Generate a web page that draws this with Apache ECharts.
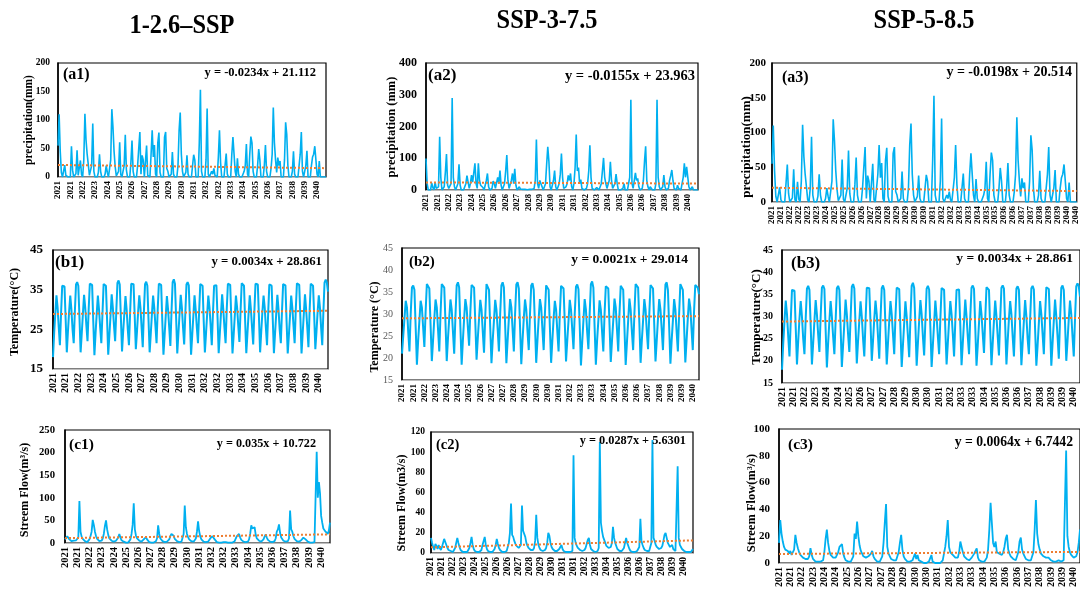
<!DOCTYPE html>
<html>
<head>
<meta charset="utf-8">
<script src="https://cdn.jsdelivr.net/npm/echarts@6/dist/echarts.min.js"></script>
<style>
  html, body { margin: 0; padding: 0; background: #fff; }
  #chart { width: 1080px; height: 590px; }
</style>
</head>
<body>
<div id="chart"></div>
<script>
// monthly categories 2021-01 ... 2040-12
var years = [2021, 2022, 2023, 2024, 2025, 2026, 2027, 2028, 2029, 2030,
             2031, 2032, 2033, 2034, 2035, 2036, 2037, 2038, 2039, 2040];
var months = [];
years.forEach(function (y) {
  for (var m = 1; m <= 12; m++) months.push(y + '-' + (m < 10 ? '0' + m : m));
});

// precipitation (mm), SSP1-2.6 (a1) - a3 draws the same curve
var precip126 = [
  55, 110, 45, 8, 0, 2, 21, 3, 0, 0, 0, 0,
  54, 12, 0, 0, 6, 47, 3, 0, 29, 4, 0, 30,
  111, 65, 40, 22, 3, 0, 20, 94, 10, 0, 0, 0,
  8, 40, 10, 0, 0, 0, 5, 20, 8, 0, 0, 30,
  119, 88, 45, 18, 2, 0, 10, 61, 4, 0, 0, 20,
  74, 12, 0, 0, 0, 25, 64, 10, 0, 0, 0, 20,
  50, 79, 5, 38, 30, 0, 0, 55, 3, 0, 0, 40,
  82, 35, 56, 5, 0, 60, 78, 8, 0, 0, 0, 70,
  79, 15, 10, 0, 0, 5, 44, 5, 0, 0, 0, 20,
  82, 113, 40, 10, 0, 0, 8, 38, 5, 0, 0, 0,
  20, 39, 30, 0, 0, 0, 60, 153, 10, 0, 0, 0,
  30, 120, 5, 0, 0, 10, 5, 15, 3, 0, 0, 35,
  82, 25, 0, 0, 0, 0, 41, 5, 0, 0, 0, 40,
  70, 71, 10, 0, 33, 5, 0, 0, 0, 0, 10, 20,
  58, 5, 0, 40, 71, 60, 10, 0, 0, 0, 20, 49,
  30, 0, 0, 0, 20, 56, 10, 0, 0, 0, 15, 40,
  122, 60, 30, 8, 34, 20, 28, 0, 0, 0, 30, 96,
  75, 20, 0, 0, 0, 10, 45, 5, 0, 0, 0, 20,
  40, 79, 10, 0, 0, 20, 46, 0, 0, 0, 20, 35,
  40, 54, 30, 5, 0, 28, 0, 0, 0, 0, 0, 0
];

// precipitation (mm), SSP3-7.5 (a2)
var precip375 = [
  99, 20, 0, 0, 0, 22, 8, 0, 25, 5, 0, 10,
  168, 40, 0, 0, 10, 55, 113, 15, 5, 0, 20, 290,
  40, 10, 0, 0, 20, 81, 15, 0, 0, 0, 5, 20,
  45, 25, 5, 20, 47, 25, 30, 84, 20, 5, 84, 30,
  15, 20, 8, 0, 5, 30, 52, 10, 0, 0, 5, 28,
  20, 5, 0, 40, 20, 61, 15, 0, 0, 20, 60, 110,
  30, 5, 0, 30, 52, 20, 67, 15, 0, 5, 10, 3,
  2, 2, 1, 2, 2, 1, 2, 2, 1, 2, 2, 5,
  30, 159, 20, 5, 30, 20, 10, 0, 0, 20, 80, 136,
  90, 10, 0, 5, 30, 61, 10, 0, 0, 20, 50, 115,
  40, 5, 0, 10, 20, 46, 30, 52, 10, 0, 20, 70,
  175, 60, 71, 20, 33, 5, 0, 0, 0, 5, 20, 60,
  141, 40, 5, 0, 0, 0, 8, 3, 0, 0, 20, 60,
  101, 40, 20, 5, 0, 30, 89, 30, 5, 0, 20, 50,
  20, 0, 0, 0, 0, 5, 20, 0, 0, 0, 5, 40,
  284, 20, 5, 0, 54, 30, 37, 10, 0, 0, 5, 30,
  90, 138, 30, 10, 0, 10, 5, 0, 0, 0, 20, 284,
  40, 10, 0, 0, 10, 47, 10, 0, 0, 5, 30, 45,
  63, 30, 5, 0, 0, 15, 5, 0, 0, 0, 40, 84,
  40, 73, 75, 10, 0, 0, 10, 0, 0, 0, 0, 0
];

// temperature (°C), SSP1-2.6 (b1) - b3 draws the same curve
var temp126 = [
  18.0, 24.0, 29.0, 33.6, 30.5, 25.5, 21.0, 29.0, 36.0, 36.4, 35.8, 27.5,
  19.2, 24.5, 29.5, 33.5, 30.0, 25.0, 21.5, 29.5, 36.3, 36.9, 36.0, 28.0,
  19.2, 24.0, 29.0, 33.7, 30.5, 26.0, 22.0, 30.0, 36.5, 37.0, 36.2, 27.0,
  18.5, 24.0, 29.0, 33.5, 30.0, 25.5, 21.5, 29.0, 36.4, 36.9, 36.0, 27.5,
  18.6, 23.5, 28.5, 33.8, 30.5, 26.0, 22.0, 29.5, 36.7, 37.3, 36.3, 28.0,
  19.4, 24.5, 29.0, 33.4, 30.0, 25.0, 21.0, 29.0, 36.5, 36.8, 36.4, 28.5,
  20.0, 24.5, 29.5, 33.6, 30.5, 25.5, 20.5, 29.5, 36.4, 37.0, 36.0, 27.5,
  19.2, 24.0, 29.0, 33.5, 30.5, 26.0, 21.5, 30.0, 36.5, 36.9, 36.2, 27.0,
  18.6, 23.5, 28.5, 33.4, 30.0, 25.5, 20.8, 29.5, 36.9, 37.6, 36.5, 28.0,
  18.9, 24.0, 29.0, 33.7, 30.5, 25.5, 21.2, 29.0, 36.3, 36.9, 36.1, 27.5,
  18.6, 23.5, 28.5, 33.6, 30.0, 25.5, 21.5, 29.5, 36.4, 36.8, 36.0, 27.0,
  19.2, 24.0, 29.0, 33.5, 30.5, 26.0, 21.0, 29.0, 36.0, 36.4, 36.1, 28.0,
  19.0, 24.0, 29.0, 33.8, 30.0, 25.5, 21.5, 30.0, 36.5, 37.0, 36.2, 27.5,
  18.9, 23.5, 28.5, 33.5, 30.5, 26.0, 21.8, 29.5, 36.6, 37.0, 36.0, 27.0,
  19.0, 24.0, 29.0, 33.6, 30.0, 25.5, 21.2, 29.5, 36.5, 37.0, 36.3, 28.0,
  19.2, 24.5, 29.5, 33.5, 30.5, 25.5, 21.0, 29.0, 36.3, 36.8, 36.0, 27.5,
  19.0, 24.0, 29.0, 33.7, 30.0, 25.0, 21.5, 29.5, 36.4, 36.9, 36.1, 27.0,
  18.9, 23.5, 28.5, 33.5, 30.5, 26.0, 21.5, 30.0, 36.6, 37.0, 36.2, 28.0,
  18.9, 24.0, 29.0, 33.8, 30.0, 25.5, 20.5, 29.5, 36.5, 37.0, 36.0, 28.5,
  20.0, 24.5, 29.5, 33.6, 30.5, 25.5, 21.0, 29.5, 36.8, 37.5, 36.8, 34.5
];

// temperature (°C), SSP3-7.5 (b2)
var temp375 = [
  21.0, 25.0, 29.0, 33.0, 31.5, 26.0, 21.5, 30.0, 36.0, 36.5, 35.5, 27.0,
  18.5, 24.0, 28.5, 33.0, 31.5, 27.0, 22.5, 30.5, 36.8, 37.2, 35.8, 27.5,
  19.3, 24.0, 29.0, 33.3, 31.5, 26.5, 21.5, 30.0, 36.8, 37.2, 36.0, 28.0,
  19.3, 24.5, 29.0, 33.3, 31.0, 26.0, 21.0, 29.5, 36.5, 37.2, 36.0, 27.0,
  18.5, 24.0, 29.0, 33.4, 31.5, 27.0, 22.8, 30.5, 36.6, 37.0, 36.0, 28.0,
  19.6, 24.5, 29.0, 33.2, 31.0, 26.0, 21.2, 29.5, 36.8, 37.2, 35.5, 27.0,
  18.8, 24.0, 28.5, 33.2, 31.0, 26.5, 21.5, 30.0, 36.5, 37.2, 36.0, 27.5,
  18.8, 24.0, 29.0, 33.4, 31.5, 26.5, 21.5, 30.0, 36.7, 37.2, 35.8, 27.0,
  18.6, 24.0, 29.0, 33.3, 31.0, 26.0, 21.8, 30.0, 36.5, 37.0, 35.5, 27.5,
  18.9, 24.0, 29.0, 33.4, 31.5, 26.5, 21.8, 30.0, 36.5, 36.7, 35.5, 27.0,
  18.9, 24.0, 29.0, 33.0, 31.0, 26.0, 21.5, 30.0, 36.4, 36.8, 35.8, 28.0,
  19.2, 24.0, 28.5, 33.2, 31.0, 26.5, 22.0, 30.0, 36.2, 36.7, 35.6, 27.5,
  18.3, 23.5, 28.5, 33.4, 31.0, 26.0, 22.0, 30.0, 36.8, 37.4, 36.0, 27.0,
  18.5, 24.0, 28.5, 33.1, 31.0, 26.0, 21.5, 30.0, 36.3, 36.7, 35.8, 27.5,
  19.1, 24.0, 28.5, 33.5, 31.5, 26.5, 21.5, 30.0, 36.4, 36.8, 35.5, 27.0,
  18.4, 23.5, 28.5, 33.5, 31.0, 26.0, 21.8, 30.0, 36.8, 37.2, 36.0, 28.0,
  18.9, 24.0, 28.5, 33.4, 31.0, 26.0, 22.0, 30.0, 36.6, 37.0, 35.8, 27.5,
  19.2, 24.0, 29.0, 33.4, 31.0, 26.5, 21.8, 30.0, 36.7, 37.2, 35.4, 27.0,
  18.7, 24.0, 28.5, 33.4, 31.0, 26.0, 21.5, 30.0, 36.8, 37.2, 35.5, 27.5,
  19.0, 24.0, 29.0, 33.5, 31.5, 26.5, 21.8, 30.5, 36.6, 37.0, 36.0, 34.5
];

// stream flow (m3/s), SSP1-2.6 (c1)
var flow126 = [
  8, 12, 15, 19, 8, 5, 4, 3, 5, 4, 6, 10,
  12, 93, 25, 14, 9, 6, 4, 3, 2, 4, 8, 15,
  25, 51, 40, 25, 15, 9, 6, 4, 3, 5, 10, 20,
  38, 50, 30, 18, 10, 7, 5, 4, 3, 3, 5, 8,
  12, 20, 12, 6, 4, 3, 2, 1, 1, 1, 3, 8,
  20, 40, 88, 30, 16, 10, 7, 5, 4, 3, 4, 8,
  10, 13, 8, 4, 2, 1, 1, 1, 1, 2, 4, 10,
  39, 20, 10, 6, 4, 3, 2, 2, 3, 4, 8, 15,
  20, 24, 16, 9, 6, 4, 3, 2, 2, 3, 6, 20,
  83, 35, 20, 13, 8, 5, 4, 3, 3, 4, 10, 25,
  48, 26, 14, 8, 5, 3, 2, 2, 2, 3, 5, 10,
  12, 15, 17, 8, 4, 2, 1, 1, 1, 1, 2, 2,
  2, 2, 1, 1, 1, 1, 1, 1, 2, 4, 10, 15,
  17, 20, 12, 7, 4, 3, 2, 2, 2, 3, 8, 20,
  39, 32, 33, 35, 18, 10, 7, 5, 4, 3, 4, 8,
  14, 19, 12, 7, 4, 3, 2, 2, 2, 4, 10, 25,
  30, 41, 22, 12, 8, 5, 4, 3, 3, 4, 10, 72,
  30, 25, 15, 9, 6, 4, 3, 3, 4, 6, 10, 12,
  13, 8, 5, 3, 2, 1, 1, 1, 1, 2, 4, 202,
  100, 135, 110, 60, 45, 32, 28, 25, 22, 20, 28, 45
];

// stream flow (m3/s), SSP3-7.5 (c2)
var flow375 = [
  15, 10, 6, 3, 9, 7, 4, 8, 5, 3, 6, 10,
  14, 15, 8, 5, 3, 2, 2, 1, 1, 2, 5, 10,
  15, 10, 6, 3, 2, 1, 1, 1, 1, 1, 2, 5,
  10, 16, 8, 4, 2, 1, 1, 1, 1, 1, 3, 8,
  12, 16, 8, 4, 2, 1, 1, 1, 1, 2, 4, 8,
  14, 9, 5, 3, 2, 1, 1, 1, 1, 2, 3, 10,
  20, 49, 18, 16, 12, 9, 7, 6, 5, 5, 8, 47,
  22, 23, 16, 10, 7, 5, 4, 3, 3, 3, 5, 12,
  38, 15, 8, 5, 3, 2, 2, 2, 3, 5, 10, 20,
  17, 10, 6, 4, 3, 2, 2, 2, 3, 4, 6, 8,
  4, 2, 1, 1, 1, 1, 1, 1, 1, 2, 97, 15,
  10, 7, 5, 4, 3, 2, 2, 2, 3, 5, 9, 13,
  15, 8, 4, 3, 2, 1, 1, 1, 2, 5, 110, 30,
  22, 16, 13, 10, 7, 6, 5, 5, 6, 10, 26, 15,
  10, 7, 4, 3, 2, 2, 2, 3, 5, 10, 15, 10,
  7, 4, 2, 2, 1, 1, 1, 1, 2, 2, 6, 34,
  12, 8, 5, 3, 2, 2, 2, 2, 3, 10, 112, 15,
  12, 8, 6, 5, 4, 4, 5, 7, 12, 18, 20, 15,
  10, 8, 6, 7, 8, 4, 3, 2, 3, 86, 15, 8,
  6, 4, 3, 2, 1, 1, 1, 1, 1, 1, 2, 4
];

// stream flow (m3/s), SSP5-8.5 (c3)
var flow585 = [
  15, 32, 22, 16, 12, 10, 9, 9, 7, 9, 6, 5,
  10, 21, 15, 11, 8, 6, 5, 4, 4, 3, 3, 3,
  5, 11, 6, 3, 2, 1, 1, 1, 1, 1, 1, 2,
  8, 18, 25, 15, 9, 6, 5, 4, 4, 4, 5, 8,
  12, 13, 14, 7, 4, 2, 2, 1, 1, 1, 2, 5,
  22, 18, 31, 20, 13, 9, 7, 5, 5, 4, 4, 5,
  6, 7, 9, 5, 3, 2, 1, 1, 1, 2, 5, 15,
  30, 44, 12, 7, 5, 3, 2, 2, 2, 2, 3, 8,
  15, 21, 10, 5, 3, 2, 1, 1, 1, 1, 2, 3,
  7, 3, 6, 2, 1, 1, 0, 0, 0, 0, 1, 1,
  2, 6, 1, 0, 0, 0, 0, 0, 0, 1, 2, 3,
  12, 20, 32, 12, 8, 9, 6, 5, 4, 3, 4, 8,
  16, 12, 8, 5, 4, 3, 3, 2, 3, 4, 5, 7,
  9, 11, 4, 2, 1, 1, 1, 1, 2, 4, 10, 25,
  45, 30, 15, 12, 16, 8, 7, 7, 6, 6, 8, 12,
  18, 21, 10, 7, 5, 4, 3, 3, 2, 3, 8, 16,
  19, 10, 7, 5, 3, 2, 2, 2, 2, 3, 8, 25,
  47, 22, 14, 10, 7, 6, 5, 5, 4, 4, 4, 3,
  2, 1, 1, 1, 1, 2, 2, 2, 1, 1, 2, 3,
  84, 20, 12, 8, 6, 5, 4, 4, 5, 8, 15, 25
];

// linear trends printed on each panel: y = slope * x + intercept (x = month number)
var trendSlopes = [-0.0234, -0.0155, -0.0198, 0.0034, 0.0021, 0.0034, 0.035, 0.0287, 0.0064];
var trendIntercepts = [21.112, 23.963, 20.514, 28.861, 29.014, 28.861, 10.722, 5.6301, 6.7442];
var trendTexts = ['y = -0.0234x + 21.112', 'y = -0.0155x + 23.963', 'y = -0.0198x + 20.514',
                  'y = 0.0034x + 28.861', 'y = 0.0021x + 29.014', 'y = 0.0034x + 28.861',
                  'y = 0.035x + 10.722', 'y = 0.0287x + 5.6301', 'y = 0.0064x + 6.7442'];

var scenarioTitles = ['1-2.6–SSP', 'SSP-3-7.5', 'SSP-5-8.5'];

var serif = '"Times New Roman", "Liberation Serif", serif';
var blue = '#00b0f0';
var orange = '#ed7d31';

// layout of every panel: rect = [left, top, width, height]
var panels = [
  { tag: '(a1)', data: precip126, rect: [58, 63, 268, 114], yMin: 0, yMax: 200, yStep: 50, step: 11,
    xFont: 9, yFont: 9.5, yMargin: 8, yColor: '#000', yBold: 'bold', lw: 1.6,
    name: 'precipitation(mm)', nameAt: [29, 120, 11.5], tagAt: [63, 75, 16], eqAt: [316, 73, 12.5] },
  { tag: '(a2)', data: precip375, rect: [426, 63, 272, 127], yMin: 0, yMax: 400, yStep: 100, step: 10,
    xFont: 8.5, yFont: 12, yMargin: 9, yColor: '#000', yBold: 'bold', lw: 1.6,
    name: 'precipitation (mm)', nameAt: [392, 127, 12.5], tagAt: [428, 76, 17], eqAt: [695, 76, 14.5] },
  { tag: '(a3)', data: precip126, rect: [772, 63, 310, 139], yMin: 0, yMax: 200, yStep: 50, step: 7,
    xFont: 9, yFont: 11, yMargin: 6, yColor: '#000', yBold: 'bold', lw: 1.6,
    name: 'precipitation(mm)', nameAt: [747, 147, 13], tagAt: [782, 78, 16], eqAt: [1072, 72, 14] },
  { tag: '(b1)', data: temp126, rect: [53, 250, 275, 119], yMin: 15, yMax: 45, yStep: 10, step: 11,
    xFont: 10, yFont: 13, yMargin: 10, yColor: '#000', yBold: 'bold', lw: 2,
    name: 'Temperature(°C)', nameAt: [15, 312, 12], tagAt: [55, 263, 17], eqAt: [322, 262, 12.8] },
  { tag: '(b2)', data: temp375, rect: [402, 248, 297, 132], yMin: 15, yMax: 45, yStep: 5, step: 9,
    xFont: 9, yFont: 10, yMargin: 9, yColor: '#595959', yBold: 'normal', lw: 2,
    name: 'Temperature (°C)', nameAt: [375, 327, 12], tagAt: [409, 262, 15], eqAt: [688, 260, 13.5] },
  { tag: '(b3)', data: temp126, rect: [782, 250, 300, 133], yMin: 15, yMax: 45, yStep: 5, step: 9,
    xFont: 10, yFont: 10, yMargin: 9, yColor: '#000', yBold: 'bold', lw: 2,
    name: 'Temperature(°C)', nameAt: [757, 317, 13], tagAt: [791, 264, 17], eqAt: [1073, 259, 13.5] },
  { tag: '(c1)', data: flow126, rect: [65, 430, 265, 113], yMin: 0, yMax: 250, yStep: 50, step: 11,
    xFont: 10.5, yFont: 10.7, yMargin: 10, yColor: '#000', yBold: 'bold', lw: 1.8,
    name: 'Streem Flow(m³/s)', nameAt: [25, 490, 12], tagAt: [69, 445, 15.5], eqAt: [316, 444, 12.2] },
  { tag: '(c2)', data: flow375, rect: [431, 432, 262, 121], yMin: 0, yMax: 120, yStep: 20, step: 10,
    xFont: 9.5, yFont: 9.5, yMargin: 6, yColor: '#000', yBold: 'bold', lw: 1.8,
    name: 'Streem Flow(m3/s)', nameAt: [402, 503, 12], tagAt: [436, 445, 14.5], eqAt: [686, 441, 12.3] },
  { tag: '(c3)', data: flow585, rect: [779, 429, 306, 136], yMin: 0, yMax: 100, yStep: 20, step: 9,
    xFont: 10, yFont: 11, yMargin: 9, yColor: '#000', yBold: 'bold', lw: 1.8,
    name: 'Streem Flow(m³/s)', nameAt: [752, 503, 12.5], tagAt: [788, 445, 15.5], eqAt: [1073, 442, 13.7] }
];

var grids = [], xAxes = [], yAxes = [], series = [], texts = [];

panels.forEach(function (p, i) {
  grids.push({
    left: p.rect[0], top: p.rect[1], width: p.rect[2], height: p.rect[3],
    show: true, borderColor: '#000', borderWidth: 1.2, backgroundColor: 'transparent'
  });
  xAxes.push({
    type: 'category', gridIndex: i, data: months, boundaryGap: false,
    axisLine: { lineStyle: { color: '#bfbfbf', width: 1.2 } },
    axisTick: { show: false },
    splitLine: { show: false },
    axisLabel: {
      interval: p.step - 1, rotate: 90, margin: 4,
      fontFamily: serif, fontWeight: 'bold', fontSize: p.xFont, color: '#000',
      formatter: function (v) { return v.slice(0, 4); }
    }
  });
  yAxes.push({
    type: 'value', gridIndex: i, min: p.yMin, max: p.yMax, interval: p.yStep,
    axisLine: { show: true, lineStyle: { color: '#000', width: 1.5 } },
    axisTick: { show: false },
    splitLine: { show: false },
    axisLabel: {
      margin: p.yMargin, fontFamily: serif, fontWeight: p.yBold,
      fontSize: p.yFont, color: p.yColor
    }
  });
  series.push({
    type: 'line', xAxisIndex: i, yAxisIndex: i, data: p.data,
    showSymbol: false, animation: false,
    lineStyle: { color: blue, width: p.lw }, z: 2
  });
  // dotted trend line from the printed regression equation
  var a = trendSlopes[i], b = trendIntercepts[i];
  series.push({
    type: 'line', xAxisIndex: i, yAxisIndex: i,
    data: [[0, b + a * 1], [months.length - 1, b + a * months.length]],
    showSymbol: false, animation: false,
    lineStyle: { color: orange, width: 2, type: 'dotted' }, z: 3
  });

  texts.push({
    type: 'text', x: p.tagAt[0], y: p.tagAt[1], z: 10,
    style: { text: p.tag, font: 'bold ' + p.tagAt[2] + 'px ' + serif, fill: '#000',
             align: 'left', verticalAlign: 'middle' }
  });
  texts.push({
    type: 'text', x: p.eqAt[0], y: p.eqAt[1], z: 10,
    style: { text: trendTexts[i], font: 'bold ' + p.eqAt[2] + 'px ' + serif, fill: '#000',
             align: 'right', verticalAlign: 'middle' }
  });
  texts.push({
    type: 'text', x: p.nameAt[0], y: p.nameAt[1], rotation: Math.PI / 2, z: 10,
    style: { text: p.name, font: 'bold ' + p.nameAt[2] + 'px ' + serif, fill: '#000',
             align: 'center', verticalAlign: 'middle' }
  });
});

// scenario headings
var titleAt = [[182, 26], [547, 21], [924, 21]];
scenarioTitles.forEach(function (t, k) {
  texts.push({
    type: 'text', x: titleAt[k][0], y: titleAt[k][1], scaleX: 0.87, z: 10,
    style: { text: t, font: 'bold 28px ' + serif, fill: '#000',
             align: 'center', verticalAlign: 'middle' }
  });
});

var chart = echarts.init(document.getElementById('chart'));
chart.setOption({
  backgroundColor: '#fff',
  animation: false,
  grid: grids,
  xAxis: xAxes,
  yAxis: yAxes,
  series: series,
  graphic: texts
});
</script>
</body>
</html>
